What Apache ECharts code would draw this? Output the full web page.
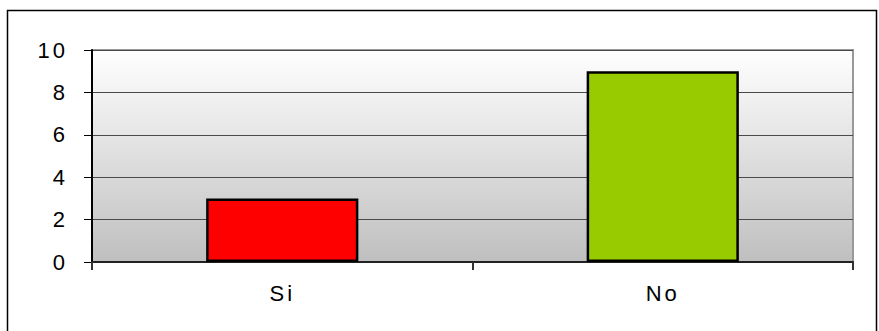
<!DOCTYPE html>
<html>
<head>
<meta charset="utf-8">
<script src="https://cdn.jsdelivr.net/npm/echarts@6/dist/echarts.min.js"></script>
<style>
  html, body { margin: 0; padding: 0; background: #fff; }
  #chart { width: 879px; height: 331px; }
  /* widen the spacing between glyphs of the axis labels */
  #chart svg text { letter-spacing: 3px; }
</style>
</head>
<body>
<div id="chart"></div>
<script>
// Answers to the question
const categories = ['Si', 'No'];
const counts = [3, 9];
const barColors = ['#ff0000', '#99cc00'];

const yMin = 0;
const yMax = 10;
const yStep = 2;

const chart = echarts.init(document.getElementById('chart'), null, { renderer: 'svg' });

chart.setOption({
  animation: false,
  backgroundColor: '#ffffff',
  graphic: [{
    type: 'rect',
    silent: true,
    shape: { x: 7.5, y: 10.5, width: 869, height: 340 },
    style: { fill: 'none', stroke: '#000000', lineWidth: 1.5 },
    z: 100
  }],
  grid: {
    left: 92,
    right: 26,
    top: 50,
    bottom: 69,
    show: true,
    borderColor: '#999999',
    borderWidth: 2,
    backgroundColor: new echarts.graphic.LinearGradient(0, 0, 0, 1, [
      { offset: 0, color: '#ffffff' },
      { offset: 1, color: '#bfbfbf' }
    ])
  },
  xAxis: {
    type: 'category',
    data: categories,
    boundaryGap: true,
    axisLine: { show: true, lineStyle: { color: '#222222', width: 2 } },
    axisTick: { show: true, length: 8, lineStyle: { color: '#333333', width: 2 } },
    axisLabel: {
      margin: 20,
      fontFamily: 'Liberation Sans, Arial, sans-serif',
      fontSize: 22,
      color: '#000000'
    }
  },
  yAxis: {
    type: 'value',
    min: yMin,
    max: yMax,
    interval: yStep,
    axisLine: { show: true, lineStyle: { color: '#000000', width: 2 } },
    axisTick: { show: true, length: 8, lineStyle: { color: '#000000', width: 1 } },
    splitLine: { show: true, lineStyle: { color: '#4a4a4a', width: 1 } },
    axisLabel: {
      margin: 24,
      fontFamily: 'Liberation Sans, Arial, sans-serif',
      fontSize: 22,
      color: '#000000'
    }
  },
  series: [{
    type: 'bar',
    barWidth: '40%',
    data: counts.map((v, i) => ({
      value: v,
      itemStyle: { color: barColors[i] }
    })),
    itemStyle: { borderColor: '#000000', borderWidth: 2.5 }
  }]
});
</script>
</body>
</html>
